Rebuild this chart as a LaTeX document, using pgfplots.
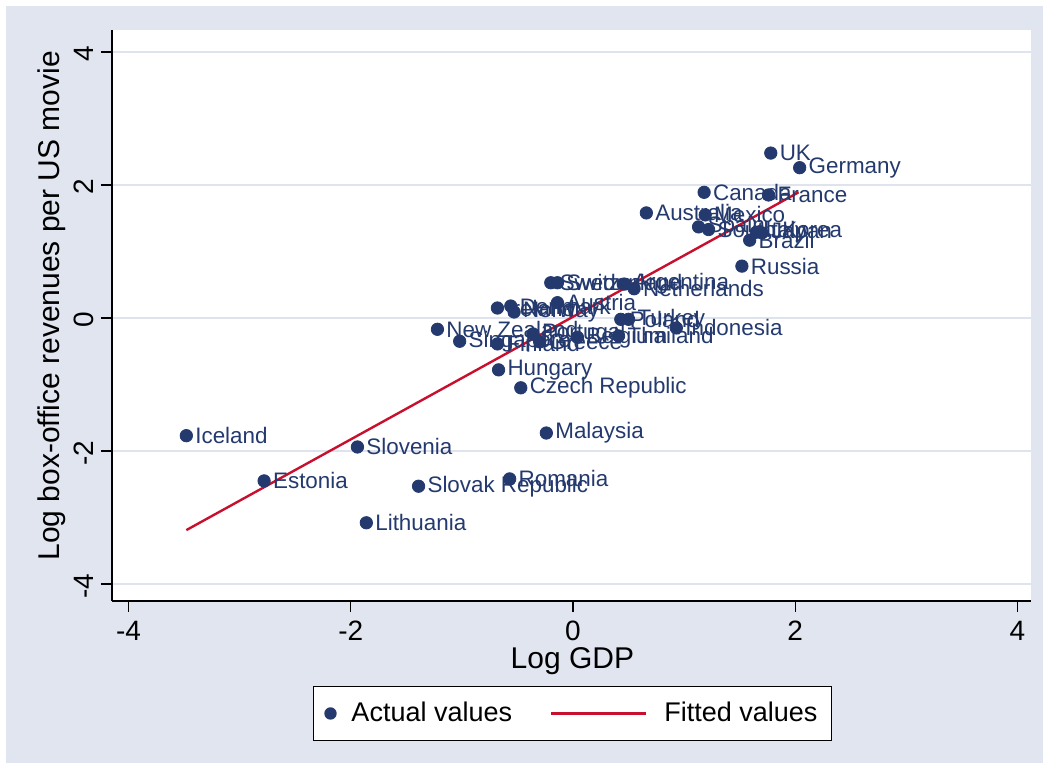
\documentclass[border=0pt]{standalone}
\usepackage{fontspec}
\setmainfont{Liberation Sans}
\usepackage{pgfplots}
\usepackage{pgfplotstable}
\pgfplotsset{compat=1.18}
\definecolor{bgc}{RGB}{224,229,240}
\definecolor{navy}{RGB}{36,58,110}
\definecolor{fitc}{RGB}{200,16,46}
\definecolor{gridc}{RGB}{222,227,238}

\pgfplotstableread[col sep=comma]{
x,y,label
1.78,2.48,UK
2.04,2.26,Germany
1.18,1.89,Canada
1.76,1.85,France
0.66,1.58,Australia
1.19,1.55,Mexico
1.13,1.37,Spain
1.22,1.33,South Korea
1.65,1.29,Italy
1.70,1.28,Japan
1.59,1.17,Brazil
1.52,0.78,Russia
-0.20,0.53,Sweden
-0.14,0.53,Switzerland
0.46,0.51,Argentina
0.55,0.44,Netherlands
-0.68,0.15,Ireland
-0.56,0.18,Denmark
-0.53,0.09,Norway
-0.14,0.23,Austria
0.43,-0.02,Poland
0.50,-0.02,Turkey
0.93,-0.15,Indonesia
0.41,-0.27,Thailand
0.04,-0.29,Belgium
-0.36,-0.24,Portugal
-0.30,-0.36,Greece
-0.68,-0.39,Finland
-1.22,-0.17,New Zealand
-1.02,-0.35,Singapore
-0.67,-0.78,Hungary
-0.47,-1.05,Czech Republic
-0.24,-1.73,Malaysia
-3.48,-1.77,Iceland
-1.94,-1.94,Slovenia
-2.78,-2.45,Estonia
-1.39,-2.53,Slovak Republic
-0.57,-2.42,Romania
-1.86,-3.08,Lithuania
}\countries

\begin{document}
\begin{tikzpicture}
\fill[white] (0,0) rectangle (524.5pt,384.5pt);
\fill[bgc] (3pt,3pt) rectangle (521.5pt,381.5pt);
\begin{axis}[
  at={(56pt,84pt)}, anchor=south west,
  scale only axis, width=459.5pt, height=285.5pt,
  xmin=-4.149, xmax=4.122, ymin=-4.256, ymax=4.331,
  axis x line*=bottom, axis y line*=left,
  axis line style={black, line width=0.7pt, -},
  axis background/.style={fill=white},
  xtick={-4,-2,0,2,4}, ytick={-4,-2,0,2,4},
  tick align=outside, major tick length=5.5pt,
  tick style={black, line width=0.7pt},
  ymajorgrids, grid style={gridc, line width=1.2pt},
  /pgf/number format/assume math mode=true,
  ticklabel style={font=\fontsize{14}{16}\selectfont},
  xticklabel style={anchor=north, yshift=-1pt},
  yticklabel style={rotate=90, anchor=south, xshift=-1pt},
  xlabel={Log GDP},
  ylabel={Log box-office revenues per US movie},
  label style={font=\fontsize{15}{18}\selectfont},
  xlabel style={at={(axis description cs:0.501,-0.106)}, anchor=center},
  ylabel style={at={(axis description cs:-0.0653,0.517)}, anchor=center, rotate=0},
  clip=false,
  legend columns=2,
  legend style={at={(axis description cs:0.501,-0.197)}, anchor=center,
    draw=black, line width=0.6pt, fill=white,
    font=\fontsize{13.5}{16}\selectfont,
    inner xsep=5pt, inner ysep=6pt,
    /tikz/every even column/.append style={column sep=17pt}},
]
\addplot[only marks, mark=*, mark size=3.1pt, color=navy,
  nodes near coords, point meta=explicit symbolic,
  nodes near coords style={anchor=west, xshift=4.3pt, yshift=0pt, inner sep=0pt,
    font=\fontsize{11.2}{13}\selectfont, text=navy},
  legend image code/.code={\fill[navy, draw=none] (0pt,0pt) circle (3.1pt); \path[draw=none, fill=none] (-3.5pt,0pt) rectangle (8.5pt,0.1pt);}
] table[x=x, y=y, meta=label] {\countries};
\addlegendentry{Actual values}
\addplot[color=fitc, line width=1.2pt, no marks,
  legend image code/.code={\draw[fitc, line width=1.2pt] (0pt,0pt) -- (47.5pt,0pt); \path[draw=none, fill=none] (0pt,0pt) rectangle (54.5pt,0.1pt);}]
  coordinates {(-3.48,-3.19) (2.03,1.89)};
\addlegendentry{Fitted values}
\end{axis}
\end{tikzpicture}
\end{document}
